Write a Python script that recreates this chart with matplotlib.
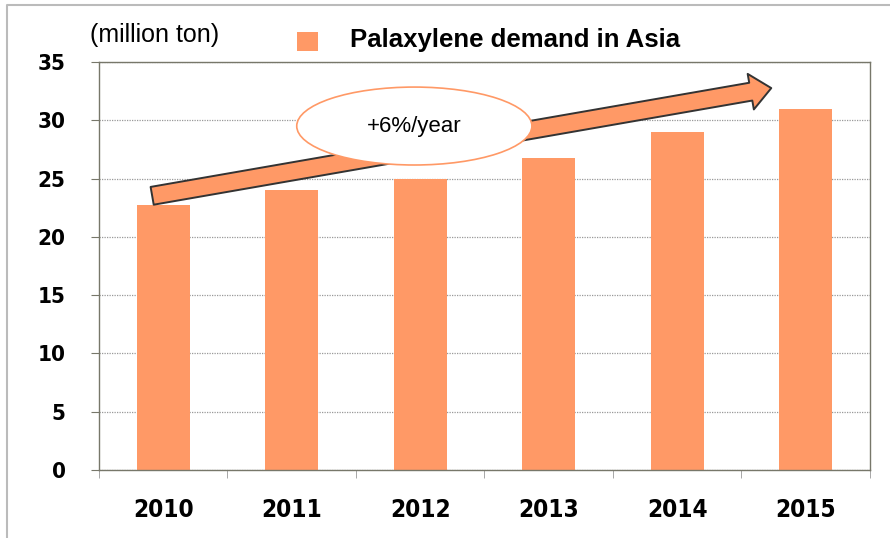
import matplotlib.pyplot as plt
from matplotlib.lines import Line2D
from matplotlib.patches import Ellipse, FancyArrowPatch, Rectangle

years = ["2010", "2011", "2012", "2013", "2014", "2015"]
demand = [22.7, 24.0, 25.0, 26.8, 29.0, 31.0]
y_ticks = [0, 5, 10, 15, 20, 25, 30, 35]

bar_color = "#FF9966"
arial = ["Liberation Sans", "DejaVu Sans"]
tick_font = dict(family="DejaVu Sans", fontweight="bold", fontstretch="condensed")

fig = plt.figure(figsize=(8.9, 5.38), dpi=100)
ax = fig.add_axes([0.1112, 0.1264, 0.8663, 0.7584])

x = range(len(years))
ax.bar(x, demand, width=0.41, color=bar_color, zorder=2)

ax.set_xlim(-0.5, len(years) - 0.5)
ax.set_ylim(0, 35)
ax.set_yticks(y_ticks)
ax.set_yticklabels([str(t) for t in y_ticks], fontsize=16, **tick_font)
ax.set_xticks(list(x))
ax.set_xticklabels(years, fontsize=17.5, **tick_font)
ax.tick_params(axis="x", length=0, pad=20)
ax.tick_params(axis="y", length=6, color="#77776a", pad=18)
# category boundary ticks
ax.set_xticks([i - 0.5 for i in range(len(years) + 1)], minor=True)
ax.tick_params(axis="x", which="minor", length=6, color="#999999")

ax.yaxis.grid(True, linestyle=(0, (1, 1)), color="#999999", linewidth=0.9, zorder=0)
for s in ax.spines.values():
    s.set_color("#77776a")
    s.set_linewidth(1.0)

# growth arrow
arrow = FancyArrowPatch(
    (0.069, 0.672), (0.872, 0.936), transform=ax.transAxes,
    arrowstyle="simple,head_length=1.5,head_width=2.6,tail_width=1.3",
    mutation_scale=10, facecolor=bar_color, edgecolor="#333333",
    linewidth=1.4, zorder=4, clip_on=False, shrinkA=0, shrinkB=0,
)
ax.add_patch(arrow)

ell = Ellipse((0.409, 0.843), 0.305, 0.191, transform=ax.transAxes,
              facecolor="white", edgecolor=bar_color, linewidth=1.2, zorder=5)
ax.add_patch(ell)
ax.text(0.409, 0.843, "+6%/year", transform=ax.transAxes, ha="center",
        va="center", fontsize=16, family=arial, zorder=6)

# header texts
fig.text(90 / 890, 1 - 35 / 538, "(million ton)", ha="left", va="center",
         fontsize=18, family=arial)
fig.patches.append(Rectangle((297 / 890, 1 - 51 / 538), 21 / 890, 19 / 538,
                             transform=fig.transFigure, facecolor=bar_color,
                             edgecolor="none"))
fig.text(350 / 890, 1 - 40 / 538, "Palaxylene demand in Asia", ha="left",
         va="center", fontsize=18.5, fontweight="bold", family=arial)

# outer frame (left and top edges only)
fig.lines.append(Line2D([7 / 890, 7 / 890, 1], [0, 1 - 5 / 538, 1 - 5 / 538],
                        transform=fig.transFigure, color="#bbbbbb",
                        linewidth=1.5))

fig.savefig("out.png", dpi=100)
